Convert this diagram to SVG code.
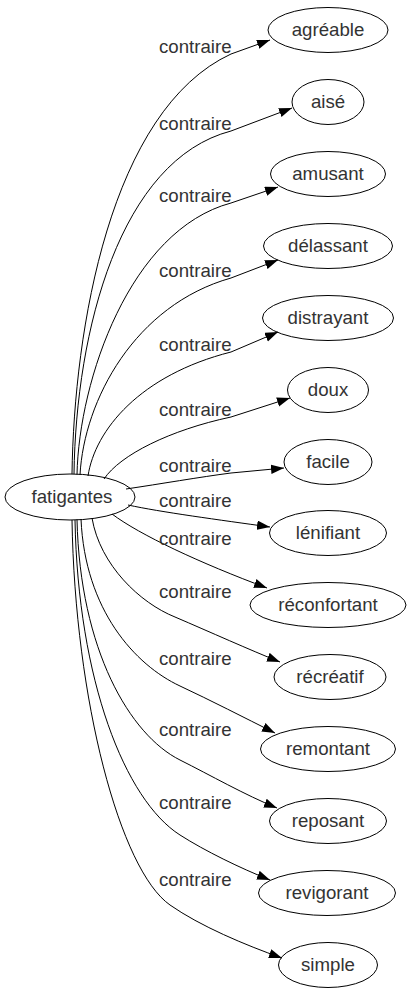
<svg xmlns="http://www.w3.org/2000/svg" width="412" height="995" viewBox="0 0 412 995">
<defs>
<style>
.n ellipse{fill:none;stroke:#000;stroke-width:1}
.n text{font-family:"Liberation Sans",Arial,sans-serif;font-size:18.67px;fill:#333;text-anchor:middle}
.e path{fill:none;stroke:#000;stroke-width:1}
.e text{font-family:"Liberation Sans",Arial,sans-serif;font-size:18.67px;fill:#333}
</style>
<marker id="arr" markerUnits="userSpaceOnUse" markerWidth="14" markerHeight="10" refX="13" refY="4.7" orient="auto">
<path d="M0,0 L13,4.7 L0,9.4 Z" fill="#000"/>
</marker>
</defs>
<rect width="412" height="995" fill="#fff"/>
<g id="edges" class="e">
<path marker-end="url(#arr)" d="M72,474 C74,330 110,110 231,54 L270,40"/>
<path marker-end="url(#arr)" d="M74,474 C76,330 120,160 231,131 L292,108"/>
<path marker-end="url(#arr)" d="M77,474.5 C79,380 130,230 231,203 L278,187"/>
<path marker-end="url(#arr)" d="M80,475 C84,400 135,305 231,278 L278,260"/>
<path marker-end="url(#arr)" d="M88,476 C95,430 140,375 231,352 L278,332"/>
<path marker-end="url(#arr)" d="M104,479 C120,455 170,430 231,417 L290,398"/>
<path marker-end="url(#arr)" d="M126,489 C160,484 200,477 231,473 L284,468"/>
<path marker-end="url(#arr)" d="M128,505 C160,512 220,520 270,527"/>
<path marker-end="url(#arr)" d="M112,514 C140,535 200,563 267,588"/>
<path marker-end="url(#arr)" d="M92,518 C100,565 140,603 175,617 C210,632 250,650 280,662"/>
<path marker-end="url(#arr)" d="M81,519 C85,610 135,665 180,686 C210,700 245,718 275,733"/>
<path marker-end="url(#arr)" d="M77,519.5 C80,650 130,735 180,760 C210,775 245,795 277,808"/>
<path marker-end="url(#arr)" d="M75,520 C78,680 125,800 180,835 C205,851 240,868 270,880"/>
<path marker-end="url(#arr)" d="M72,520 C75,700 120,870 170,905 C200,926 245,945 282,958"/>
<text x="159" y="53">contraire</text>
<text x="159" y="130">contraire</text>
<text x="159" y="202">contraire</text>
<text x="159" y="277">contraire</text>
<text x="159" y="351">contraire</text>
<text x="159" y="416">contraire</text>
<text x="159" y="472">contraire</text>
<text x="159" y="507">contraire</text>
<text x="159" y="545">contraire</text>
<text x="159" y="598">contraire</text>
<text x="159" y="665">contraire</text>
<text x="159" y="736">contraire</text>
<text x="159" y="809">contraire</text>
<text x="159" y="886">contraire</text>
</g>
<g id="fatigantes" class="n"><ellipse cx="70" cy="497" rx="65" ry="23"/><text x="72" y="503">fatigantes</text></g>
<g id="agreable" class="n"><ellipse cx="328" cy="30" rx="60" ry="22.5"/><text x="328" y="36">agréable</text></g>
<g id="aise" class="n"><ellipse cx="328" cy="102" rx="36" ry="22.5"/><text x="328" y="108">aisé</text></g>
<g id="amusant" class="n"><ellipse cx="328" cy="174" rx="57.5" ry="22.5"/><text x="328" y="180">amusant</text></g>
<g id="delassant" class="n"><ellipse cx="328" cy="246" rx="64.5" ry="22.5"/><text x="328" y="252">délassant</text></g>
<g id="distrayant" class="n"><ellipse cx="328" cy="318" rx="65.5" ry="22.5"/><text x="328" y="324">distrayant</text></g>
<g id="doux" class="n"><ellipse cx="328" cy="390" rx="40.5" ry="22.5"/><text x="328" y="396">doux</text></g>
<g id="facile" class="n"><ellipse cx="328" cy="462" rx="44" ry="22.5"/><text x="328" y="468">facile</text></g>
<g id="lenifiant" class="n"><ellipse cx="328" cy="533" rx="58.5" ry="22.5"/><text x="328" y="539">lénifiant</text></g>
<g id="reconfortant" class="n"><ellipse cx="328" cy="605" rx="78" ry="22.5"/><text x="328" y="611">réconfortant</text></g>
<g id="recreatif" class="n"><ellipse cx="330" cy="677" rx="56" ry="22.5"/><text x="330" y="683">récréatif</text></g>
<g id="remontant" class="n"><ellipse cx="328" cy="749" rx="67.5" ry="22.5"/><text x="328" y="755">remontant</text></g>
<g id="reposant" class="n"><ellipse cx="328" cy="821" rx="58.5" ry="22.5"/><text x="328" y="827">reposant</text></g>
<g id="revigorant" class="n"><ellipse cx="327" cy="893" rx="68.5" ry="22.5"/><text x="327" y="899">revigorant</text></g>
<g id="simple" class="n"><ellipse cx="328" cy="965" rx="49.5" ry="22.5"/><text x="328" y="971">simple</text></g>
</svg>
